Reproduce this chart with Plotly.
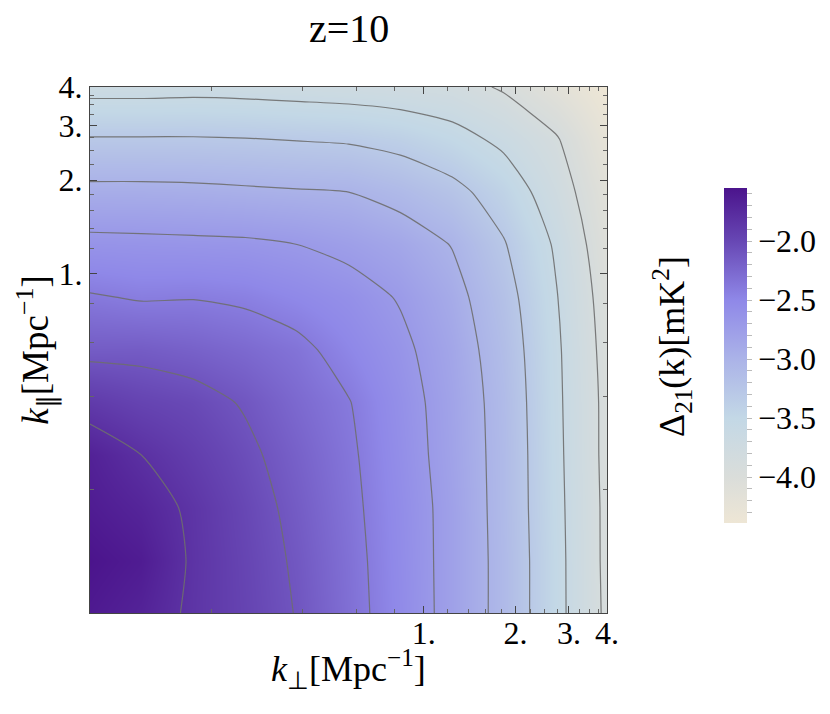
import math
import plotly.graph_objects as go

# ---- data (log-spaced grid, values of log10 Delta_21) ----
k_perp = [0.08, 0.118, 0.175, 0.259, 0.383, 0.566, 0.838, 1.24, 1.83, 2.71, 4.0]
k_par = [0.08, 0.118, 0.175, 0.259, 0.383, 0.566, 0.838, 1.24, 1.83, 2.71, 4.0]

# rows: k_par (bottom -> top); columns: k_perp (left -> right)
delta21 = [
    [-1.60, -1.68, -1.84, -1.97, -2.11, -2.31, -2.53, -2.79, -3.09, -3.51, -3.95],
    [-1.55, -1.62, -1.83, -1.98, -2.13, -2.32, -2.54, -2.79, -3.09, -3.51, -3.96],
    [-1.62, -1.70, -1.84, -2.00, -2.16, -2.34, -2.55, -2.79, -3.10, -3.52, -3.96],
    [-1.67, -1.80, -1.92, -2.05, -2.20, -2.36, -2.57, -2.81, -3.10, -3.53, -3.97],
    [-1.89, -1.97, -2.02, -2.12, -2.26, -2.39, -2.59, -2.82, -3.11, -3.54, -3.97],
    [-2.16, -2.16, -2.20, -2.26, -2.34, -2.49, -2.64, -2.85, -3.14, -3.55, -3.99],
    [-2.38, -2.42, -2.41, -2.44, -2.51, -2.59, -2.72, -2.91, -3.19, -3.58, -4.02],
    [-2.63, -2.64, -2.65, -2.66, -2.70, -2.77, -2.86, -3.01, -3.28, -3.63, -4.08],
    [-2.93, -2.93, -2.94, -2.96, -2.98, -3.00, -3.09, -3.22, -3.43, -3.75, -4.14],
    [-3.28, -3.28, -3.28, -3.29, -3.31, -3.33, -3.39, -3.50, -3.66, -3.87, -4.25],
    [-3.69, -3.69, -3.68, -3.69, -3.71, -3.73, -3.76, -3.80, -3.93, -4.15, -4.39],
]

z_min, z_max = -4.39, -1.55
contour_start, contour_end, contour_step = -3.9, -1.8, 0.3

axis_tick_vals = [1, 2, 3, 4]
axis_tick_text = ["1.", "2.", "3.", "4."]
axis_minor_vals = [0.2, 0.4, 0.6, 0.8, 1.2, 1.4, 1.6, 1.8, 2.25, 2.5, 2.75, 3.25, 3.5, 3.75]

cb_major = [-4.0, -3.5, -3.0, -2.5, -2.0]
cb_all = [round(-4.3 + 0.1 * i, 1) for i in range(28)]
cb_text = [("\u2212%.1f" % abs(v)) if any(abs(v - m) < 1e-9 for m in cb_major) else "" for v in cb_all]

colorscale = [
    [0.000, "#EEE6D5"],
    [0.137, "#DADDDA"],
    [0.313, "#C3D8E6"],
    [0.489, "#ABB3E8"],
    [0.665, "#8F88E8"],
    [0.842, "#6747B4"],
    [1.000, "#4B148C"],
]

FONT = "Liberation Serif"

fig = go.Figure()
fig.add_trace(go.Heatmap(
    x=k_perp, y=k_par, z=delta21, zsmooth="best",
    colorscale=colorscale, zmin=z_min, zmax=z_max,
    colorbar=dict(
        x=1.206, xanchor="left", y=0.4895, yanchor="middle",
        len=0.675, lenmode="fraction", thickness=23, outlinewidth=0,
        tickvals=cb_all, ticktext=cb_text, ticks="outside", ticklen=5,
        tickcolor="#bbbbbb", tickfont=dict(family=FONT, size=32, color="black"),
    ),
))
fig.add_trace(go.Contour(
    x=k_perp, y=k_par, z=delta21, showscale=False,
    contours=dict(coloring="none", start=contour_start, end=contour_end, size=contour_step),
    line=dict(color="rgba(110,110,110,0.9)", width=1.2, smoothing=0.6),
    hoverinfo="skip",
))

axis_common = dict(
    type="log", range=[math.log10(0.08), math.log10(4.0)],
    tickvals=axis_tick_vals, ticktext=axis_tick_text,
    ticks="inside", ticklen=7, tickcolor="#444", tickwidth=1,
    minor=dict(tickvals=axis_minor_vals, ticks="inside", ticklen=4, tickcolor="#666"),
    showline=True, linecolor="#444", linewidth=1, mirror="allticks",
    showgrid=False, zeroline=False, automargin=False,
    tickfont=dict(family=FONT, size=32, color="black"),
)
fig.update_layout(
    width=830, height=714,
    margin=dict(l=82, r=224, t=79, b=109),
    paper_bgcolor="white", plot_bgcolor="white",
    xaxis=dict(axis_common, ticklabelstandoff=-8), yaxis=axis_common,
    showlegend=False,
    annotations=[
        dict(text="z=10", x=0.5, y=1.112, xref="paper", yref="paper",
             xanchor="center", yanchor="middle", showarrow=False,
             font=dict(family=FONT, size=40, color="black")),
        dict(text="<i>k</i><sub>\u22a5</sub>[Mpc<sup>\u22121</sup>]", x=0.5, y=-0.106,
             xref="paper", yref="paper", xanchor="center", yanchor="middle",
             showarrow=False, font=dict(family=FONT, size=36, color="black")),
        dict(text="<i>k</i><sub>\u2225</sub>[Mpc<sup>\u22121</sup>]", x=-0.105, y=0.5,
             xref="paper", yref="paper", xanchor="center", yanchor="middle",
             textangle=-90, showarrow=False, font=dict(family=FONT, size=37, color="black")),
        dict(text="\u0394<sub>21</sub>(k)[mK<sup>2</sup>]", x=1.126, y=0.506,
             xref="paper", yref="paper", xanchor="center", yanchor="middle",
             textangle=-90, showarrow=False, font=dict(family=FONT, size=36, color="black")),
    ],
)

fig.write_html("out.html")
